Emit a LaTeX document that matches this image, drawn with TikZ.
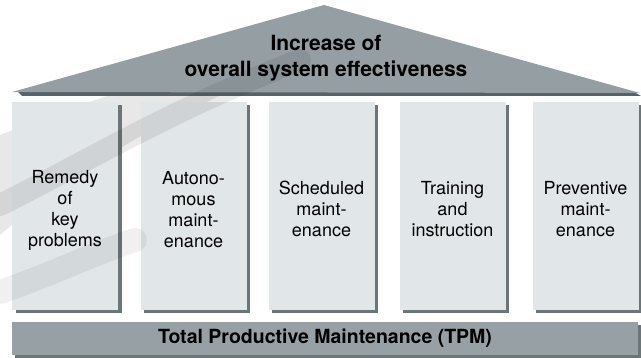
\documentclass[tikz,border=0pt]{standalone}
\usepackage{fontspec}
\setmainfont{TeX Gyre Heros}
\usetikzlibrary{shadows}
\definecolor{roofgray}{HTML}{959FA3}
\definecolor{roofshadow}{HTML}{58626A}
\definecolor{colfill}{HTML}{E1E6E9}
\definecolor{colshadow}{HTML}{6C7577}
\definecolor{barfill}{HTML}{97A1A5}
\tikzset{
  pillar/.style={fill=colfill, draw=none, minimum width=106pt, minimum height=208pt,
    inner sep=0pt,
    general shadow={shadow xshift=3.5pt, shadow yshift=-3.5pt, fill=colshadow}},
  pillartext/.style={inner sep=0pt, align=center, font=\fontsize{18}{21}\selectfont},
  basebar/.style={fill=barfill, draw=none, minimum width=626pt, minimum height=33pt,
    inner sep=0pt, font=\bfseries\fontsize{19.5}{22}\selectfont,
    general shadow={shadow xshift=3pt, shadow yshift=-3pt, fill=colshadow}},
  rooftext/.style={anchor=base, inner sep=0pt, font=\bfseries\fontsize{21}{26}\selectfont},
  streak/.style={line cap=round, draw=black}
}
\begin{document}
\begin{tikzpicture}[x=1pt, y=-1pt]
\useasboundingbox (0,0) rectangle (641,358);
\fill[white] (0,0) rectangle (641,358);
% background swoosh (behind)
\fill[black, opacity=0.09] (0,135) .. controls (80,105) and (200,60) .. (335,30)
  -- (335,55) .. controls (220,85) and (100,150) .. (0,235) -- cycle;
% roof
\fill[roofshadow] (18,92) -- (634,92) -- (641,96) -- (22,96) -- cycle;
\fill[roofgray] (12,92) -- (324,5) -- (640,93) -- cycle;
% pillars
\node[pillar] (c1) at (65,206) {};
\node[pillar] (c2) at (193.5,206) {};
\node[pillar] (c3) at (321.5,206) {};
\node[pillar] (c4) at (452.5,206) {};
\node[pillar] (c5) at (585.5,206) {};
% base
\node[basebar] (tpm) at (325,338.5) {Total Productive Maintenance (TPM)};
% overlay streaks
\draw[streak, opacity=0.08, line width=22pt] (0,205) .. controls (90,160) and (170,110) .. (300,60);
\draw[streak, opacity=0.06, line width=24pt] (0,292) .. controls (50,275) and (90,255) .. (135,240);
% pillar texts
\node[pillartext] (c1t) at ([yshift=-4pt]c1.center) {Remedy\\of\\key\\problems};
\node[pillartext] (c2t) at ([yshift=-4pt]c2.center) {Autono-\\mous\\maint-\\enance};
\node[pillartext] (c3t) at ([yshift=-3pt]c3.center) {Scheduled\\maint-\\enance};
\node[pillartext] (c4t) at ([yshift=-3pt]c4.center) {Training\\and\\instruction};
\node[pillartext] (c5t) at ([yshift=-3pt]c5.center) {Preventive\\maint-\\enance};
% roof title
\node[rooftext] (t1) at (326,51) {Increase of};
\node[rooftext] (t2) at (326,77) {overall system effectiveness};
\end{tikzpicture}
\end{document}
